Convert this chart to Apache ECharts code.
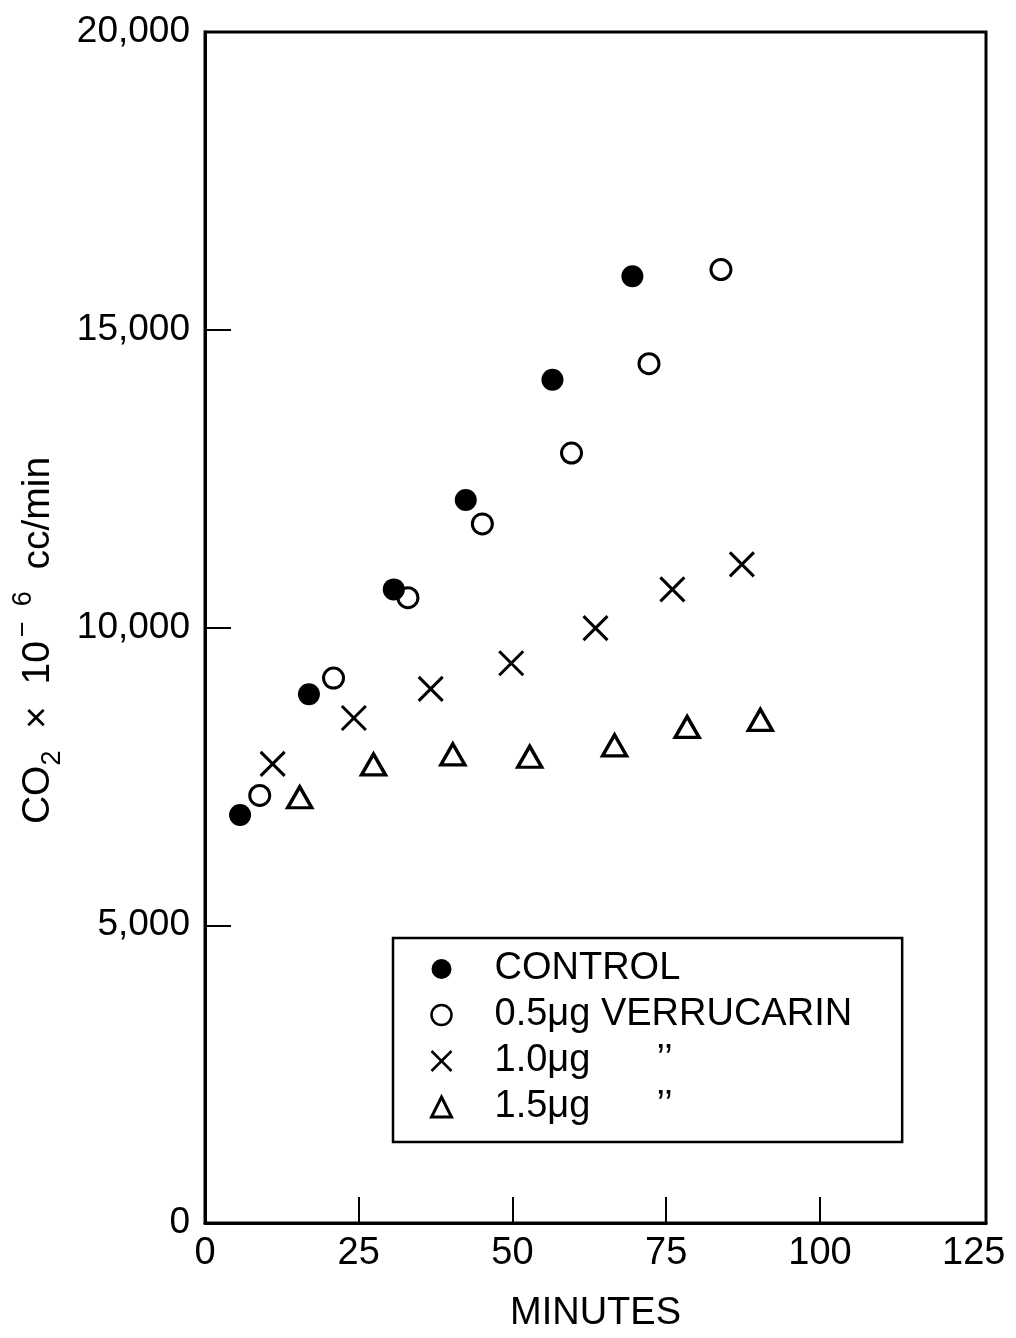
<!DOCTYPE html>
<html>
<head>
<meta charset="utf-8">
<script src="https://cdn.jsdelivr.net/npm/echarts@6/dist/echarts.min.js"></script>
<style>
html,body{margin:0;padding:0;background:#fff;}
#chart{width:1016px;height:1338px;}
</style>
</head>
<body>
<div id="chart"></div>
<script>
// Data (minutes, CO2 x 10^-6 cc/min)
const controlX = [5.7, 16.9, 30.7, 42.4, 56.5, 69.5];
const controlY = [6850, 8880, 10640, 12140, 14160, 15900];

const dose05X = [8.9, 20.9, 33.0, 45.1, 59.6, 72.2, 83.9];
const dose05Y = [7180, 9150, 10500, 11740, 12930, 14430, 16010];

const dose10X = [11.0, 24.2, 36.7, 49.8, 63.5, 76.0, 87.3];
const dose10Y = [7710, 8480, 8970, 9400, 9990, 10640, 11060];

const dose15X = [15.4, 27.4, 40.3, 52.8, 66.6, 78.4, 90.3];
const dose15Y = [7150, 7700, 7870, 7830, 8020, 8330, 8450];

const seriesNames = ['CONTROL', '0.5μg VERRUCARIN', '1.0μg', '1.5μg'];
const xTicks = [0, 25, 50, 75, 100, 125];
const yTicks = [0, 5000, 10000, 15000, 20000];

function pairs(xs, ys) { return xs.map((x, i) => [x, ys[i]]); }

const FONT = 'Liberation Sans';
const crossPath = 'path://M0,0L10,10M10,0L0,10';

const chart = echarts.init(document.getElementById('chart'));
chart.setOption({
  animation: false,
  backgroundColor: '#fff',
  grid: {
    left: 205, right: 30, top: 32, bottom: 104,
    show: true, borderColor: '#000', borderWidth: 3, backgroundColor: 'transparent'
  },
  xAxis: {
    type: 'value', min: 0, max: 127, interval: 25,
    name: 'MINUTES', nameLocation: 'middle', nameGap: 72,
    nameTextStyle: { fontFamily: FONT, fontSize: 38, color: '#000' },
    axisLine: { show: true, lineStyle: { color: '#000', width: 3 } },
    axisTick: { show: true, inside: true, length: 26, customValues: [25, 50, 75, 100], lineStyle: { color: '#000', width: 2 } },
    axisLabel: {
      margin: 12, fontFamily: FONT, fontSize: 38, color: '#000',
      formatter: v => (xTicks.indexOf(v) >= 0 ? String(v) : '')
    },
    splitLine: { show: false }
  },
  yAxis: {
    type: 'value', min: 0, max: 20000, interval: 5000,
    name: '{m|CO}{sub|2}{m|  ×  10}{sup|−  6}{m|  cc/min}',
    nameLocation: 'middle', nameGap: 138, nameRotate: 90,
    nameTextStyle: {
      fontFamily: FONT, fontSize: 39, color: '#000', padding: [0, 26, 0, 0],
      rich: {
        m: { fontFamily: FONT, fontSize: 39, lineHeight: 56, color: '#000' },
        sub: { fontFamily: FONT, fontSize: 27, lineHeight: 27, verticalAlign: 'bottom', color: '#000' },
        sup: { fontFamily: FONT, fontSize: 27, lineHeight: 27, verticalAlign: 'top', color: '#000', padding: [0, 0, 0, 4] }
      }
    },
    axisLine: { show: true, lineStyle: { color: '#000', width: 3 } },
    axisTick: { show: true, inside: true, length: 26, lineStyle: { color: '#000', width: 2 } },
    axisLabel: {
      margin: 15, fontFamily: FONT, fontSize: 37, color: '#000',
      formatter: v => (yTicks.indexOf(v) >= 0 ? v.toLocaleString('en-US') : '')
    },
    splitLine: { show: false }
  },
  legend: {
    orient: 'vertical', left: 393, top: 938,
    padding: [12, 50, 16, 37],
    borderColor: '#000', borderWidth: 2.5, backgroundColor: '#fff',
    itemGap: 8, itemWidth: 20, itemHeight: 20,
    textStyle: {
      fontFamily: FONT, fontSize: 38, color: '#000', lineHeight: 36, padding: [0, 0, 0, 38],
      rich: {
        a: { fontFamily: FONT, fontSize: 38, color: '#000', lineHeight: 36, width: 162 },
        d: { fontFamily: FONT, fontSize: 38, color: '#000', lineHeight: 36 }
      }
    },
    formatter: name => {
      if (name === '1.0μg' || name === '1.5μg') return '{a|' + name + '}{d|’’}';
      return name;
    },
    data: [
      { name: seriesNames[0], icon: 'circle', itemStyle: { color: '#000', borderWidth: 0 } },
      { name: seriesNames[1], icon: 'circle', itemStyle: { color: 'transparent', borderColor: '#000', borderWidth: 2.5 } },
      { name: seriesNames[2], icon: crossPath, itemStyle: { color: 'transparent', borderColor: '#000', borderWidth: 2.5 } },
      { name: seriesNames[3], icon: 'triangle', itemStyle: { color: 'transparent', borderColor: '#000', borderWidth: 3 } }
    ]
  },
  series: [
    {
      name: seriesNames[0], type: 'scatter', data: pairs(controlX, controlY),
      symbol: 'circle', symbolSize: 22,
      itemStyle: { color: '#000', borderWidth: 0, opacity: 1 }
    },
    {
      name: seriesNames[1], type: 'scatter', data: pairs(dose05X, dose05Y),
      symbol: 'circle', symbolSize: 20,
      itemStyle: { color: 'transparent', borderColor: '#000', borderWidth: 3, opacity: 1 }
    },
    {
      name: seriesNames[2], type: 'scatter', data: pairs(dose10X, dose10Y),
      symbol: crossPath, symbolSize: 24,
      itemStyle: { color: 'transparent', borderColor: '#000', borderWidth: 3, opacity: 1 }
    },
    {
      name: seriesNames[3], type: 'scatter', data: pairs(dose15X, dose15Y),
      symbol: 'triangle', symbolSize: [24, 21],
      itemStyle: { color: 'transparent', borderColor: '#000', borderWidth: 3.4, opacity: 1 }
    }
  ]
});
</script>
</body>
</html>
